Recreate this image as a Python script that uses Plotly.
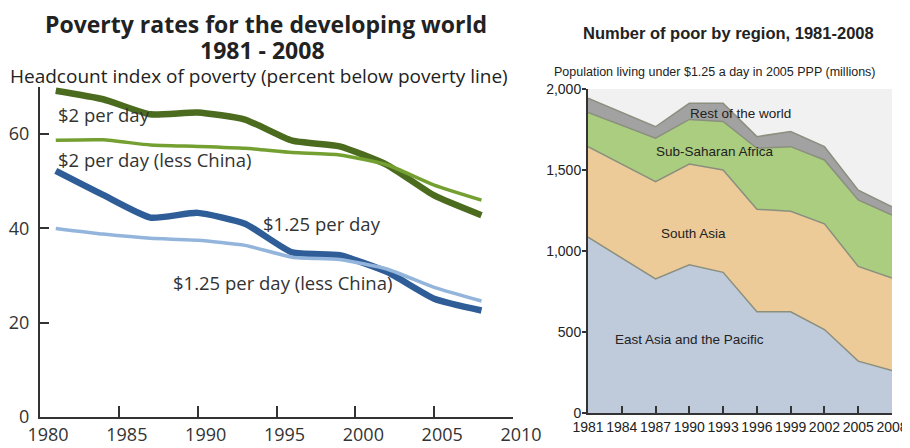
import plotly.graph_objects as go

# ---------------- Data ----------------
years = [1981, 1984, 1987, 1990, 1993, 1996, 1999, 2002, 2005, 2008]

# Left chart: headcount index (%)
two_dollar = [69.2, 67.4, 64.2, 64.6, 63.1, 58.6, 57.4, 53.5, 47.0, 42.8]
two_dollar_less_china = [58.7, 58.8, 57.7, 57.4, 57.0, 56.1, 55.6, 53.5, 49.2, 46.0]
one25 = [52.2, 47.1, 42.3, 43.3, 41.0, 34.9, 34.3, 30.8, 25.1, 22.6]
one25_less_china = [40.0, 38.8, 37.9, 37.5, 36.4, 33.9, 33.4, 31.4, 27.5, 24.6]

# Right chart: number of poor (millions)
east_asia = [1085, 955, 828, 915, 868, 625, 625, 515, 320, 262]
south_asia = [559, 580, 600, 622, 632, 633, 620, 653, 585, 571]
sub_saharan = [212, 241, 268, 275, 300, 376, 399, 394, 410, 389]
rest_world = [87, 79, 71, 100, 112, 72, 93, 82, 60, 51]

left_xticks = [1980, 1985, 1990, 1995, 2000, 2005, 2010]
left_yticks = [0, 20, 40, 60]
right_yticks = [0, 500, 1000, 1500, 2000]
right_yticklabels = ["0", "500", "1,000", "1,500", "2,000"]

FONT_L = "Open Sans, Noto Sans, sans-serif"
FONT_R = "Liberation Sans Narrow, Liberation Sans, sans-serif"

# page body has an 8px margin: figure starts at reference pixel 8,8
OFF = 8
W, H = 920, 440


def px(x):
    return (x - OFF) / W


def py(y):
    return 1 - (y - OFF) / H


fig = go.Figure()

# ---------------- Left chart ----------------
left_series = [
    (two_dollar, "#4b6b1e", 6.5),
    (two_dollar_less_china, "#74a032", 3.5),
    (one25, "#2f5d97", 6.5),
    (one25_less_china, "#93b5dc", 3.5),
]
for vals, col, w in left_series:
    fig.add_trace(go.Scatter(
        x=years, y=vals, mode="lines", xaxis="x", yaxis="y",
        line=dict(color=col, width=w, shape="spline", smoothing=0.5),
        showlegend=False, hoverinfo="skip"))

# ---------------- Right chart ----------------
area_series = [
    (east_asia, "#bfcadb"),
    (south_asia, "#eccb99"),
    (sub_saharan, "#abcd7f"),
    (rest_world, "#a2a2a2"),
]
for vals, col in area_series:
    fig.add_trace(go.Scatter(
        x=years, y=vals, mode="lines", xaxis="x2", yaxis="y2",
        stackgroup="one", fillcolor=col,
        line=dict(color="#8a8f7e", width=1.5),
        showlegend=False, hoverinfo="skip"))

# background for right plot
fig.add_shape(type="rect", xref="x2 domain", yref="y2", x0=0, x1=1, y0=0, y1=2000,
              fillcolor="#f1f1f1", line=dict(width=0), layer="below")

axis_col = "#333333"
fig.update_layout(
    width=W, height=H,
    margin=dict(l=0, r=0, t=0, b=0, autoexpand=False),
    paper_bgcolor="white", plot_bgcolor="rgba(0,0,0,0)",
    xaxis=dict(domain=[px(40), px(513)], range=[1980, 2010], tickvals=left_xticks,
               showgrid=False, zeroline=False, showline=True, linecolor=axis_col, linewidth=2,
               ticks="inside", ticklen=11, tickwidth=2, tickcolor=axis_col,
               tickfont=dict(family=FONT_L, size=18, color="#333"), ticklabelshift=8,
               tickangle=0, anchor="y", automargin=False),
    yaxis=dict(domain=[py(417), py(87)], range=[0, 70], tickvals=left_yticks,
               showgrid=False, zeroline=False, showline=True, linecolor=axis_col, linewidth=2,
               ticks="inside", ticklen=9, tickwidth=2, tickcolor=axis_col,
               tickfont=dict(family=FONT_L, size=18, color="#333"), ticklabelstandoff=5,
               anchor="x", automargin=False),
    xaxis2=dict(domain=[px(588), px(892)], range=[1981, 2008], tickvals=years,
                showgrid=False, zeroline=False, showline=True, linecolor=axis_col, linewidth=2,
                ticks="inside", ticklen=7, tickwidth=2, tickcolor=axis_col,
                tickfont=dict(family=FONT_R, size=14, color="#222"), tickangle=0,
                anchor="y2", automargin=False),
    yaxis2=dict(domain=[py(413), py(89)], range=[0, 2000], tickvals=right_yticks,
                ticktext=right_yticklabels,
                showgrid=False, zeroline=False, showline=True, linecolor=axis_col, linewidth=2,
                ticks="outside", ticklen=4, tickwidth=2, tickcolor=axis_col,
                tickfont=dict(family=FONT_R, size=14, color="#222"), ticklabelstandoff=-2,
                anchor="x2", automargin=False),
)

ann = []
# Left titles
ann.append(dict(text="<b>Poverty rates for the developing world</b>", x=266, y=24,
                font=dict(family=FONT_L, size=23, color="#222")))
ann.append(dict(text="<b>1981 - 2008</b>", x=262, y=50,
                font=dict(family=FONT_L, size=23, color="#222")))
ann.append(dict(text="Headcount index of poverty (percent below poverty line)", x=259, y=76,
                font=dict(family=FONT_L, size=19, color="#222")))
# Right titles
ann.append(dict(text="<b>Number of poor by region, 1981-2008</b>", x=728, y=33,
                font=dict(family=FONT_R, size=16.5, color="#222")))
ann.append(dict(text="Population living under $1.25 a day in 2005 PPP (millions)", x=715, y=72,
                font=dict(family=FONT_R, size=12.5, color="#222")))

for a in ann:
    a.update(xref="paper", yref="paper", showarrow=False, xanchor="center", yanchor="middle")
    a["x"] = px(a["x"])
    a["y"] = py(a["y"])

# Series labels (placed in data coordinates)
labels_left = [
    ("$2 per day", 1981, 64.2),
    ("$2 per day (less China)", 1981, 54.6),
    ("$1.25 per day", 1994.0, 41.0),
    ("$1.25 per day (less China)", 1988.3, 28.6),
]
for t, x, y in labels_left:
    ann.append(dict(text=t, x=x, y=y, xref="x", yref="y", showarrow=False,
                    xanchor="left", yanchor="middle",
                    font=dict(family=FONT_L, size=18.5, color="#333")))

labels_right = [
    ("Rest of the world", 1994.5, 1850),
    ("Sub-Saharan Africa", 1992.3, 1615),
    ("South Asia", 1990.4, 1110),
    ("East Asia and the Pacific", 1990.0, 455),
]
for t, x, y in labels_right:
    ann.append(dict(text=t, x=x, y=y, xref="x2", yref="y2", showarrow=False,
                    xanchor="center", yanchor="middle",
                    font=dict(family=FONT_R, size=13.5, color="#222")))

fig.update_layout(annotations=ann)
fig.write_html("out.html")
